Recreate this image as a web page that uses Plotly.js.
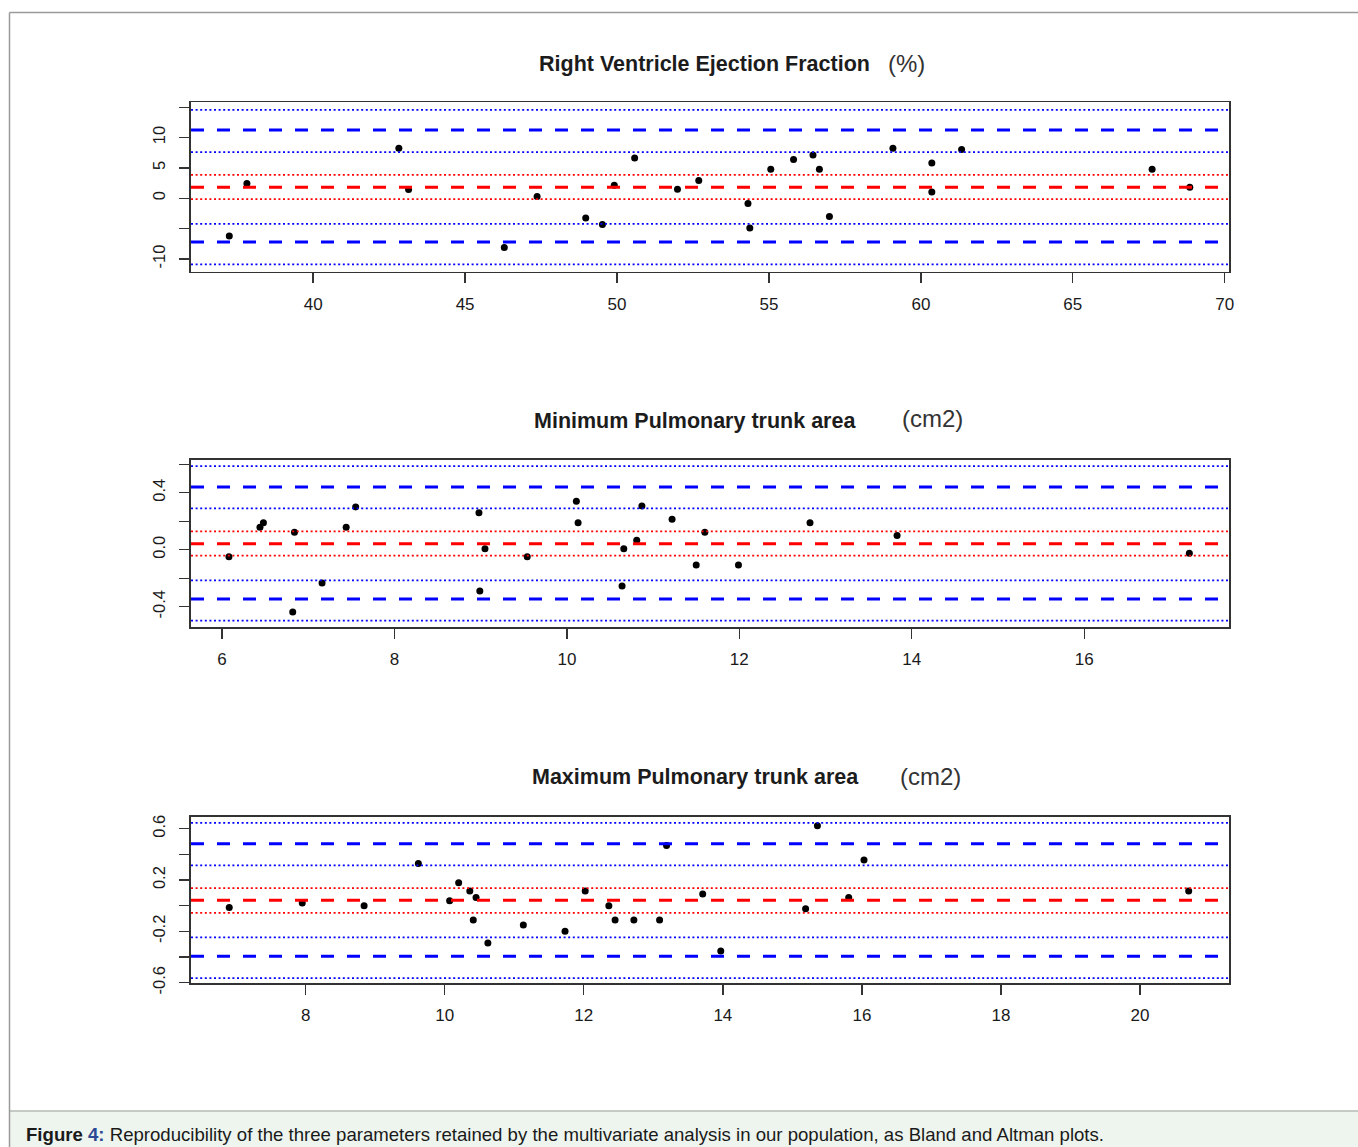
<!DOCTYPE html>
<html>
<head>
<meta charset="utf-8">
<script src="https://cdn.plot.ly/plotly-3.0.1.min.js"></script>
<style>
  html, body { margin: 0; padding: 0; background: #ffffff; }
  #chart { width: 1358px; height: 1147px; }
</style>
</head>
<body>
<div id="chart"></div>
<script>
// ---------- Data ----------
// Panel 1: Right Ventricle Ejection Fraction (%)
const rvefMean = [37.24, 37.82, 42.82, 43.14, 46.29, 47.37, 48.97, 49.52, 49.91, 50.58, 51.99, 52.69,
                  54.31, 54.37, 55.06, 55.81, 56.45, 56.66, 56.99, 59.08, 60.36, 60.36, 61.34, 67.61, 68.85];
const rvefDiff = [-6.21, 2.41, 8.24, 1.42, -8.13, 0.27, -3.25, -4.34, 2.14, 6.64, 1.48, 2.90,
                  -0.88, -4.90, 4.77, 6.37, 7.13, 4.77, -3.02, 8.24, 5.81, 1.04, 8.01, 4.77, 1.81];
const rvefBias = 1.81;
const rvefBiasCI = [-0.16, 3.84];
const rvefLoA = [-7.20, 11.25];
const rvefLowerLoACI = [-10.90, -4.23];
const rvefUpperLoACI = [7.58, 14.55];
const rvefXTicks = [40, 45, 50, 55, 60, 65, 70];
const rvefYTicks = [-10, -5, 0, 5, 10, 15];
const rvefYTickText = ["-10", "", "0", "5", "10", ""];

// Panel 2: Minimum Pulmonary trunk area (cm2)
const minMean = [6.08, 6.44, 6.48, 6.84, 6.82, 7.16, 7.44, 7.55, 8.98, 9.05, 8.99, 9.54, 10.11,
                 10.13, 10.66, 10.64, 10.81, 10.87, 11.22, 11.50, 11.60, 11.99, 12.82, 13.83, 17.22];
const minDiff = [-0.049, 0.157, 0.190, 0.122, -0.437, -0.234, 0.157, 0.300, 0.260, 0.007, -0.290, -0.049, 0.340,
                 0.190, 0.007, -0.255, 0.066, 0.307, 0.213, -0.107, 0.122, -0.107, 0.190, 0.100, -0.025];
const minBias = 0.042;
const minBiasCI = [-0.042, 0.129];
const minLoA = [-0.346, 0.440];
const minLowerLoACI = [-0.498, -0.215];
const minUpperLoACI = [0.290, 0.587];
const minXTicks = [6, 8, 10, 12, 14, 16];
const minYTicks = [-0.4, -0.2, 0.0, 0.2, 0.4, 0.6];
const minYTickText = ["-0.4", "", "0.0", "", "0.4", ""];

// Panel 3: Maximum Pulmonary trunk area (cm2)
const maxMean = [6.90, 7.95, 8.84, 9.62, 10.07, 10.20, 10.36, 10.45, 10.41, 10.62, 11.13, 11.73, 12.02,
                 12.36, 12.45, 12.72, 13.09, 13.19, 13.71, 13.97, 15.36, 15.19, 15.81, 16.03, 20.70];
const maxDiff = [-0.013, 0.021, 0.000, 0.330, 0.039, 0.179, 0.115, 0.065, -0.111, -0.291, -0.151, -0.200, 0.115,
                 0.000, -0.111, -0.111, -0.111, 0.470, 0.091, -0.353, 0.624, -0.023, 0.065, 0.356, 0.115];
const maxBias = 0.042;
const maxBiasCI = [-0.056, 0.137];
const maxLoA = [-0.395, 0.484];
const maxLowerLoACI = [-0.565, -0.247];
const maxUpperLoACI = [0.314, 0.646];
const maxXTicks = [8, 10, 12, 14, 16, 18, 20];
const maxYTicks = [-0.6, -0.4, -0.2, 0.0, 0.2, 0.4, 0.6];
const maxYTickText = ["-0.6", "", "-0.2", "", "0.2", "", "0.6"];

const panelTitles = ["Right Ventricle Ejection Fraction", "Minimum Pulmonary trunk area", "Maximum Pulmonary trunk area"];
const panelUnits = ["(%)", "(cm2)", "(cm2)"];
const captionLabel = "Figure";
const captionNumber = "4:";
const captionText = "Reproducibility of the three parameters retained by the multivariate analysis in our population, as Bland and Altman plots.";

// ---------- Helpers ----------
const W = 1358, H = 1147;
const px = v => v / W;
const py = v => 1 - v / H;
const FONT = "Liberation Sans, Arial, Helvetica, sans-serif";

const BLUE = "#0000ff", RED = "#ff0000";

function hline(axisSuffix, yv, color, kind) {
  const dashed = kind === "dash";
  return {
    type: "line", layer: "above",
    xref: "x" + axisSuffix + " domain", yref: "y" + axisSuffix,
    x0: 0, x1: 1, y0: yv, y1: yv,
    line: { color: color, width: dashed ? 3 : 1.7, dash: dashed ? "13px,13px" : "2px,2.6px" }
  };
}

function panelShapes(s, bias, biasCI, loa, lowCI, upCI) {
  return [
    hline(s, upCI[1], BLUE, "dot"),
    hline(s, loa[1], BLUE, "dash"),
    hline(s, upCI[0], BLUE, "dot"),
    hline(s, biasCI[1], RED, "dot"),
    hline(s, bias, RED, "dash"),
    hline(s, biasCI[0], RED, "dot"),
    hline(s, lowCI[1], BLUE, "dot"),
    hline(s, loa[0], BLUE, "dash"),
    hline(s, lowCI[0], BLUE, "dot")
  ];
}

function pts(x, y, s) {
  return {
    type: "scatter", mode: "markers", x: x, y: y,
    xaxis: "x" + s, yaxis: "y" + s,
    marker: { color: "#000000", size: 7, symbol: "circle" },
    hoverinfo: "skip", showlegend: false
  };
}

const axisCommon = {
  showgrid: false, zeroline: false, showline: true, mirror: true,
  linecolor: "#333333", linewidth: 1.6,
  ticks: "outside", ticklen: 10, tickwidth: 1.3, tickcolor: "#333333",
  tickfont: { family: FONT, size: 17, color: "#1a1a1a" },
  fixedrange: true
};

function xax(domainPx, range, tickvals, anchor) {
  return Object.assign({}, axisCommon, {
    domain: [px(domainPx[0]), px(domainPx[1])], range: range,
    tickmode: "array", tickvals: tickvals, ticktext: tickvals.map(String),
    anchor: anchor, ticklabelstandoff: 6
  });
}
function yax(topPx, botPx, range, tickvals, ticktext, anchor) {
  return Object.assign({}, axisCommon, {
    domain: [py(botPx), py(topPx)], range: range,
    tickmode: "array", tickvals: tickvals, ticktext: ticktext,
    tickangle: -90, anchor: anchor, ticklabelstandoff: 8,
    tickfont: { family: FONT, size: 16.5, color: "#1a1a1a" }
  });
}

const data = [
  pts(rvefMean, rvefDiff, ""),
  pts(minMean, minDiff, "2"),
  pts(maxMean, maxDiff, "3")
];

const shapes = [].concat(
  // page frame and caption band
  [
    { type: "rect", xref: "paper", yref: "paper", x0: px(9.5), x1: 1, y0: 0, y1: py(1111), layer: "below",
      fillcolor: "#eef5ef", line: { width: 0 } },
    { type: "line", xref: "paper", yref: "paper", x0: px(9.5), x1: 1, y0: py(1111), y1: py(1111), layer: "below",
      line: { color: "#b5bab5", width: 1.5 } },
    { type: "line", xref: "paper", yref: "paper", x0: px(9.5), x1: 1, y0: py(12.5), y1: py(12.5), layer: "below",
      line: { color: "#9a9a9a", width: 1.5 } },
    { type: "line", xref: "paper", yref: "paper", x0: px(9.5), x1: px(9.5), y0: 0, y1: py(12.5), layer: "below",
      line: { color: "#9a9a9a", width: 1.5 } }
  ],
  panelShapes("", rvefBias, rvefBiasCI, rvefLoA, rvefLowerLoACI, rvefUpperLoACI),
  panelShapes("2", minBias, minBiasCI, minLoA, minLowerLoACI, minUpperLoACI),
  panelShapes("3", maxBias, maxBiasCI, maxLoA, maxLowerLoACI, maxUpperLoACI)
);

function titleAnn(text, cx, cy, bold) {
  return {
    xref: "paper", yref: "paper", x: px(cx), y: py(cy), xanchor: "center", yanchor: "middle",
    text: bold ? "<b>" + text + "</b>" : text, showarrow: false,
    font: { family: FONT, size: bold ? 21.5 : 24, color: bold ? "#1c1c1c" : "#333333" }
  };
}

const annotations = [
  titleAnn(panelTitles[0], 704.5, 64, true),
  titleAnn(panelUnits[0], 906.5, 64, false),
  titleAnn(panelTitles[1], 695.5, 421, true),
  titleAnn(panelUnits[1], 932.5, 419, false),
  titleAnn(panelTitles[2], 695, 777, true),
  titleAnn(panelUnits[2], 930.5, 776, false),
  {
    xref: "paper", yref: "paper", x: px(24), y: py(1134), xanchor: "left", yanchor: "middle",
    showarrow: false,
    text: "<b>" + captionLabel + " <span style='color:#2c4a94'>" + captionNumber + "</span></b> " + captionText,
    font: { family: FONT, size: 18.6, color: "#1a1a1a" }
  }
];

const layout = {
  width: W, height: H,
  margin: { l: 0, r: 0, t: 0, b: 0, pad: 0 },
  paper_bgcolor: "#ffffff", plot_bgcolor: "#ffffff",
  showlegend: false,
  xaxis:  xax([191, 1229], [35.98, 70.14], rvefXTicks, "y"),
  yaxis:  yax(102.3, 271.7, [-12.1, 15.8], rvefYTicks, rvefYTickText, "x"),
  xaxis2: xax([191, 1229], [5.64, 17.68], minXTicks, "y2"),
  yaxis2: yax(460, 627.3, [-0.545, 0.63], minYTicks, minYTickText, "x2"),
  xaxis3: xax([191, 1229], [6.35, 21.28], maxXTicks, "y3"),
  yaxis3: yax(817, 983.3, [-0.605, 0.692], maxYTicks, maxYTickText, "x3"),
  shapes: shapes,
  annotations: annotations
};

Plotly.newPlot("chart", data, layout, { staticPlot: true, displayModeBar: false });
</script>
</body>
</html>
